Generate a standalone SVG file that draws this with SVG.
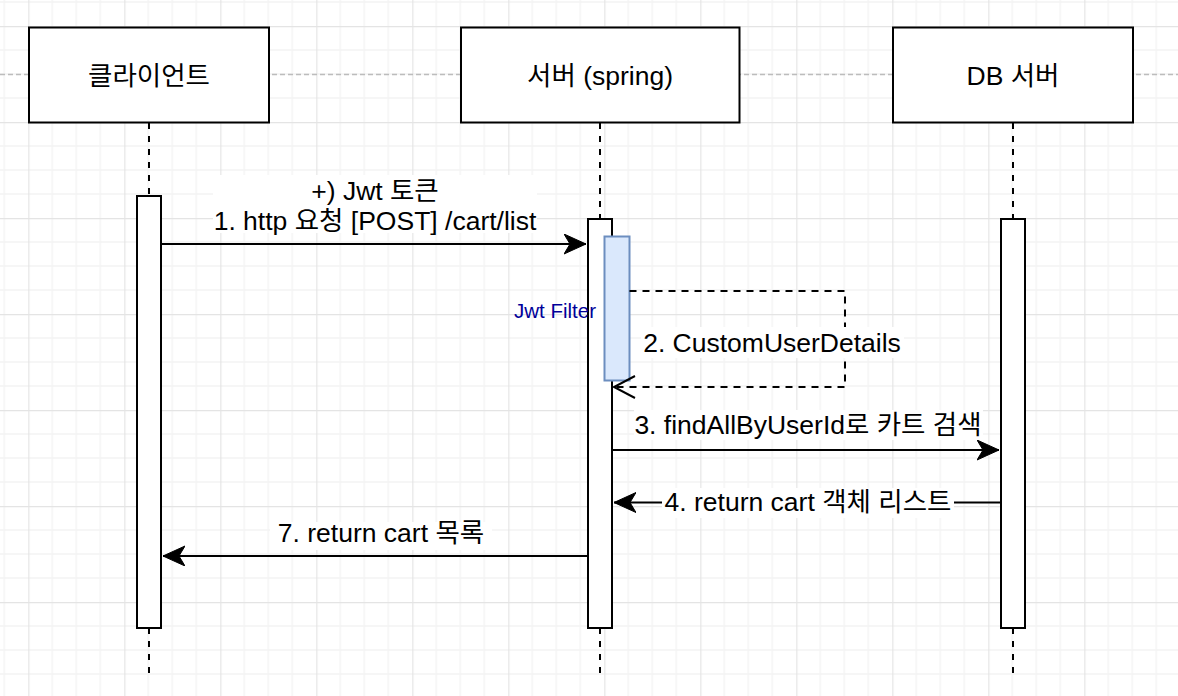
<svg xmlns="http://www.w3.org/2000/svg" width="1178" height="696" viewBox="0 0 1178 696">
  <defs>
    <pattern id="grid" patternUnits="userSpaceOnUse" x="28.3" y="26" width="96" height="96">
      <path d="M24,0V96M48,0V96M72,0V96M0,24H96M0,48H96M0,72H96" stroke="#f3f3f3" stroke-width="1.3" fill="none"/>
      <path d="M0.5,0V96M0,0.5H96" stroke="#e4e4e4" stroke-width="1.3" fill="none"/>
    </pattern>
    <marker id="block" markerUnits="userSpaceOnUse" markerWidth="24" markerHeight="22" refX="22" refY="10" orient="auto" viewBox="0 0 24 22">
      <path d="M0,0 L22,10 L0,20 L6,10 Z" fill="#000" stroke="#000" stroke-width="1"/>
    </marker>
    <marker id="open" markerUnits="userSpaceOnUse" markerWidth="26" markerHeight="26" refX="22" refY="12" orient="auto" viewBox="0 0 26 26">
      <path d="M1,1 L22,12 L1,23" fill="none" stroke="#000" stroke-width="2"/>
    </marker>
  </defs>
  <style>
    .box { fill: #fff; stroke: #000; stroke-width: 2; }
    .act { fill: #fff; stroke: #000; stroke-width: 2; }
    .life { stroke: #000; stroke-width: 2; stroke-dasharray: 6 7; fill: none; }
    .msg { stroke: #000; stroke-width: 2; fill: none; }
    .dmsg { stroke: #000; stroke-width: 2; fill: none; stroke-dasharray: 7 6; }
    .t { font-family: "Liberation Sans", Arial, "Noto Sans CJK KR", sans-serif; font-size: 26.5px; fill: #000; text-anchor: middle; }
    .lbg { fill: #fff; }
  </style>
  <rect width="1178" height="696" fill="#fff"/>
  <rect width="1178" height="696" fill="url(#grid)"/>
  <line x1="0" y1="74.5" x2="1178" y2="74.5" stroke="#bcbcbc" stroke-width="1.5" stroke-dasharray="5 3"/>

  <g id="lifelines">
    <path class="life" d="M149,123V196M149,628V677"/>
    <path class="life" d="M600,123V219M600,628V677"/>
    <path class="life" d="M1013,123V219M1013,628V677"/>
  </g>

  <g id="client">
    <rect class="box" x="29" y="27.5" width="240" height="95"/>
    <text class="t" x="149" y="85">클라이언트</text>
    <rect class="act" x="137" y="196" width="24" height="432"/>
  </g>
  <g id="server">
    <rect class="box" x="461" y="27.5" width="278.5" height="95"/>
    <text class="t" x="600" y="85">서버 (spring)</text>
    <rect class="act" x="588" y="219" width="24" height="409"/>
  </g>
  <g id="db">
    <rect class="box" x="893" y="27.5" width="240" height="95"/>
    <text class="t" x="1013" y="85">DB 서버</text>
    <rect class="act" x="1001" y="219" width="24" height="409"/>
  </g>
  <g id="jwtfilter">
    <rect x="604.5" y="236.5" width="25" height="144" fill="#dae8fc" stroke="#6c8ebf" stroke-width="2"/>
    <text x="555" y="318" style="font-family: 'Liberation Sans', Arial, sans-serif; font-size: 20.5px; fill: #000099; text-anchor: middle;">Jwt Filter</text>
  </g>

  <g id="connectors">
    <path class="msg" d="M161,244H586" marker-end="url(#block)"/>
    <path class="dmsg" d="M629.5,291H845V387H614" marker-end="url(#open)"/>
    <path class="msg" d="M612,450H999" marker-end="url(#block)"/>
    <path class="msg" d="M1001,502.5H614" marker-end="url(#block)"/>
    <path class="msg" d="M588,556H163" marker-end="url(#block)"/>
  </g>

  <g id="labels">
    <rect class="lbg" x="213" y="175" width="324" height="58"/>
    <text class="t" x="375" y="200">+) Jwt 토큰</text>
    <text class="t" x="375" y="230">1. http 요청 [POST] /cart/list</text>

    <rect class="lbg" x="641" y="327" width="263" height="31"/>
    <text class="t" x="772" y="352">2. CustomUserDetails</text>

    <rect class="lbg" x="634" y="410" width="349" height="30"/>
    <text class="t" x="808" y="434">3. findAllByUserId로 카트 검색</text>

    <rect class="lbg" x="662" y="488" width="292" height="30"/>
    <text class="t" x="808" y="511">4. return cart 객체 리스트</text>

    <rect class="lbg" x="270" y="522" width="222" height="28" fill="#fafafa"/>
    <text class="t" x="381" y="542">7. return cart 목록</text>
  </g>
</svg>
